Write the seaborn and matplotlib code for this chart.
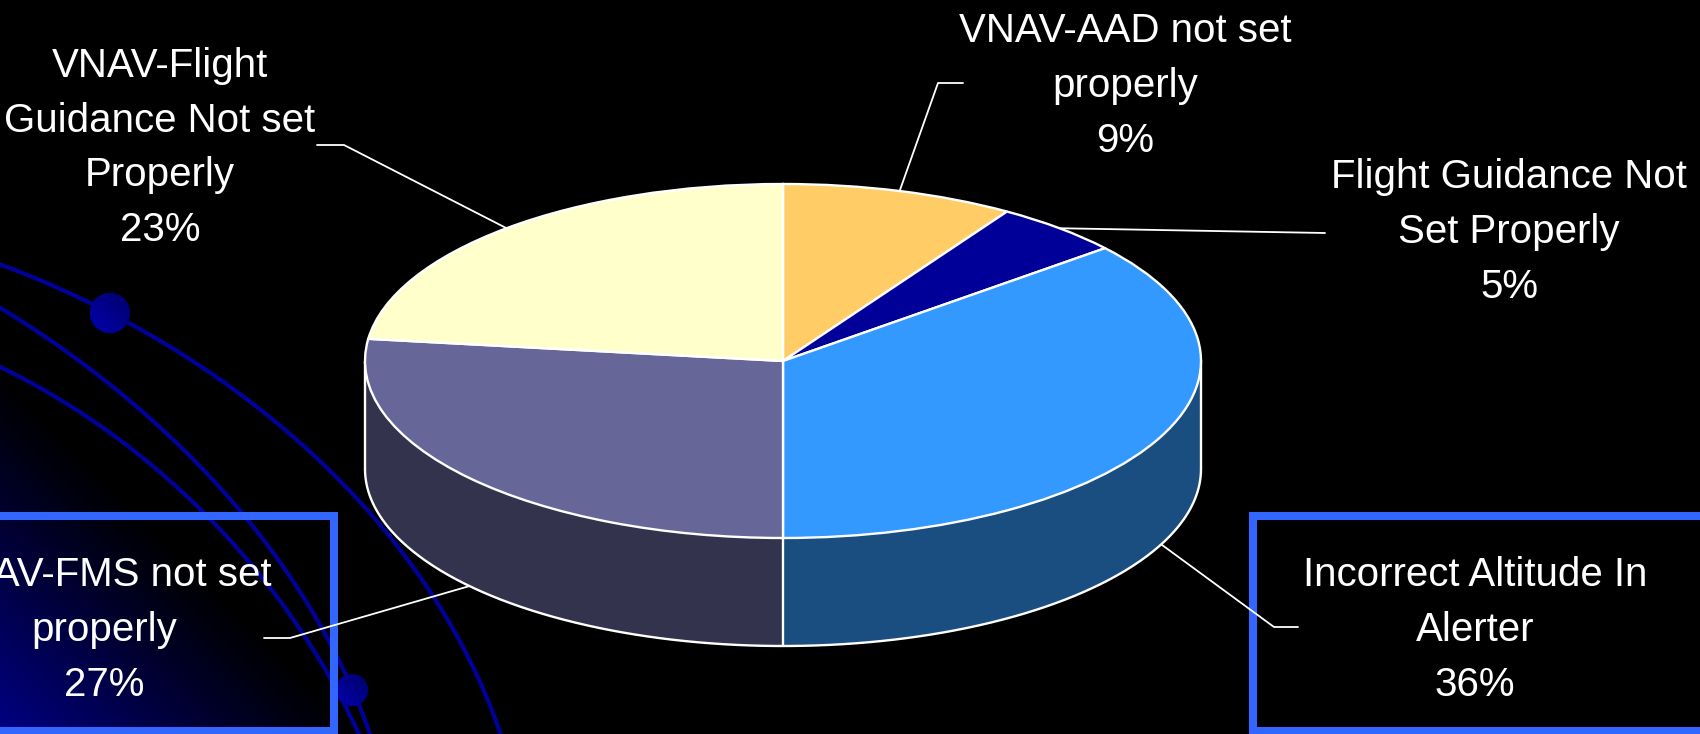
import numpy as np
import matplotlib
matplotlib.use("Agg")
import matplotlib.pyplot as plt
import seaborn as sns
from matplotlib.patches import Polygon, Circle
from matplotlib.transforms import Affine2D
from matplotlib.colors import to_rgb

# ----- Data -----------------------------------------------------------------
causes = [
    "VNAV-AAD not set\nproperly",
    "Flight Guidance Not\nSet Properly",
    "Incorrect Altitude In\nAlerter",
    "VNAV-FMS not set\nproperly",
    "VNAV-Flight\nGuidance Not set\nProperly",
]
shares = [9, 5, 36, 27, 23]
slice_colors = ["#FFCC66", "#000099", "#3399FF", "#666699", "#FFFFCC"]

# ----- Layout (pixels, y downwards) -----------------------------------------
W, H = 1700, 734
CX, CY, RX, RY, DEPTH = 783, 361, 418, 177, 108
label_pos = [(1125, 86), (1509, 232), (1475, 630), (104, 630), (160, 148)]
leader_end = [((938, 83), (963, 83)), ((1325, 233), (1325, 233)),
              ((1274, 627), (1298, 627)), ((290, 638), (264, 638)),
              ((344, 145), (317, 145))]

FONT = ["Liberation Sans Narrow", "Liberation Sans", "DejaVu Sans"]
ARC_BLUE = "#00009A"
BOX_BLUE = "#3366FF"

sns.set_theme(style="dark", rc={"figure.facecolor": "black",
                                "axes.facecolor": "black",
                                "savefig.facecolor": "black"})
plt.rcParams["font.family"] = FONT

fig = plt.figure(figsize=(W / 100, H / 100), dpi=100)
ax = fig.add_axes([0, 0, 1, 1])

# ----- Background decoration ------------------------------------------------
gx, gy = np.meshgrid(np.arange(0, 345), np.arange(370, H))
t = np.clip(1 - (gx + (H - gy)) / 365.0, 0, 1) ** 1.1
grad = np.zeros(gx.shape + (3,))
grad[..., 2] = 0.52 * t
ax.imshow(grad, extent=(0, 345, H, 370), origin="upper", zorder=0,
          interpolation="bilinear")


def smooth(points, n=200):
    pts = np.asarray(points, float)
    d = np.r_[0, np.cumsum(np.hypot(*np.diff(pts, axis=0).T))]
    d /= d[-1]
    tt = np.linspace(0, 1, n)
    return (np.polyval(np.polyfit(d, pts[:, 0], 3), tt),
            np.polyval(np.polyfit(d, pts[:, 1], 3), tt))


arcs = [
    [(-5, 263), (110, 312), (227, 383), (287, 433), (350, 493), (400, 553),
     (450, 617), (490, 700), (500, 740)],
    [(-5, 306), (43, 333), (100, 377), (160, 427), (233, 507), (287, 567),
     (333, 650), (372, 740)],
    [(-5, 365), (50, 393), (117, 437), (180, 490), (240, 553), (290, 618),
     (330, 670), (360, 740)],
]
for pts in arcs:
    xs, ys = smooth(pts)
    ax.plot(xs, ys, color=ARC_BLUE, lw=3.0, zorder=1, solid_capstyle="butt")

for (bx, by, br) in [(110, 313, 20), (352, 690, 16)]:
    ball = Circle((bx, by), br, transform=ax.transData)
    ax.add_patch(Circle((bx, by), br, facecolor="#00008B", lw=0, zorder=1.1))
    bxx, byy = np.meshgrid(np.linspace(-1, 1, 60), np.linspace(-1, 1, 60))
    shade = np.clip(0.5 - 0.35 * (bxx - byy) / 2, 0, 1)
    img = np.zeros(bxx.shape + (3,))
    img[..., 2] = 0.35 + 0.4 * shade
    im = ax.imshow(img, extent=(bx - br, bx + br, by + br, by - br),
                   origin="upper", zorder=1.2, interpolation="bilinear")
    im.set_clip_path(ball)

# label boxes: drawn as open polylines starting off-canvas so no corner seam
for xs_box in ([-20, 334, 334, -20], [1760, 1253, 1253, 1760]):
    ax.plot(xs_box, [516, 516, 731, 731], color=BOX_BLUE, lw=5.8,
            solid_joinstyle="miter", solid_capstyle="projecting", zorder=1.3)

# ----- Pie top (matplotlib pie squashed into an ellipse) ---------------------
wedges, _ = ax.pie(shares, colors=slice_colors, startangle=90,
                   counterclock=False, radius=1, center=(0, 0),
                   wedgeprops=dict(edgecolor="white", linewidth=1.7))
ellipse = Affine2D().scale(RX, -RY).translate(CX, CY) + ax.transData
for w in wedges:
    w.set_transform(ellipse)
    w.set_zorder(3)


def rim(deg):
    r = np.radians(deg)
    return CX + RX * np.cos(r), CY - RY * np.sin(r)


# ----- Pie side walls (front half only) ------------------------------------
for w, c in zip(wedges, slice_colors):
    dark = tuple(v * 0.5 for v in to_rgb(c))
    for shift in (-360, 0, 360):
        lo = max(w.theta1 + shift, 180)
        hi = min(w.theta2 + shift, 360)
        if hi <= lo:
            continue
        xs, ys = rim(np.linspace(lo, hi, 120))
        poly = np.r_[np.c_[xs, ys], np.c_[xs[::-1], ys[::-1] + DEPTH]]
        ax.add_patch(Polygon(poly, closed=True, facecolor=dark,
                             edgecolor="none", zorder=2))

xs, ys = rim(np.linspace(180, 360, 300))
ax.plot(xs, ys + DEPTH, color="white", lw=1.7, zorder=2.5)
edges = {180.0, 360.0}
for w in wedges:
    for a in (w.theta1, w.theta2):
        a = a % 360
        if 180 < a < 360:
            edges.add(a)
for a in edges:
    x0, y0 = rim(a)
    ax.plot([x0, x0], [y0, y0 + DEPTH], color="white", lw=1.7, zorder=2.5)

# ----- Leader lines and labels ---------------------------------------------
for w, name, share, (lx, ly), (elbow, end) in zip(
        wedges, causes, shares, label_pos, leader_end):
    mid = (w.theta1 + w.theta2) / 2
    sx, sy = rim(mid)
    if np.sin(np.radians(mid)) < 0:
        sy += DEPTH
    ax.plot([sx, elbow[0], end[0]], [sy, elbow[1], end[1]], color="white",
            lw=1.3, zorder=1.5)
    ax.text(lx, ly, f"{name}\n{share}%", ha="center", va="center",
            color="white", fontsize=29, linespacing=1.56, family=FONT,
            zorder=5)

ax.set_xlim(0, W)
ax.set_ylim(H, 0)
ax.set_aspect("auto")
ax.axis("off")

fig.savefig("out.png", dpi=100, facecolor="black")
